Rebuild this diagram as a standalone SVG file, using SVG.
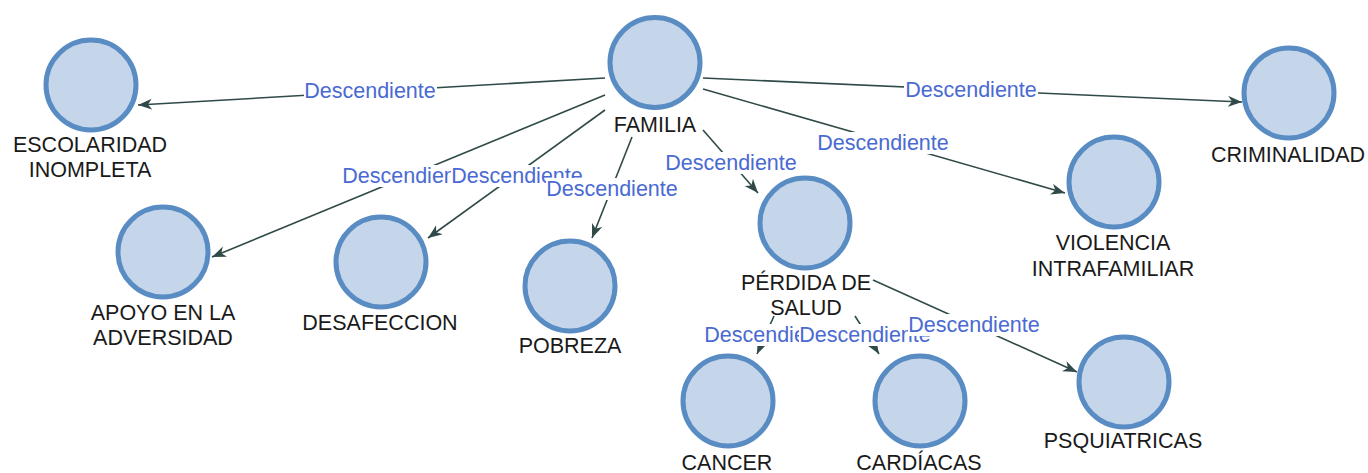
<svg xmlns="http://www.w3.org/2000/svg" width="1368" height="473" viewBox="0 0 1368 473">
<style>
.edge{stroke:#2f4a48;stroke-width:1.6;fill:none;marker-end:url(#arr)}
.elbl-bg{fill:#ffffff}
.elbl{font-family:"Liberation Sans",Arial,sans-serif;font-size:21.5px;fill:#4a6ad2;text-anchor:middle}
.node circle{fill:#c5d6ea;stroke:#5a8cc4;stroke-width:5}
.node text{font-family:"Liberation Sans",Arial,sans-serif;font-size:21.5px;fill:#1a1a1a;text-anchor:middle}
</style>
<defs>
<marker id="arr" markerUnits="userSpaceOnUse" markerWidth="16" markerHeight="12" refX="14" refY="5.5" orient="auto">
<path d="M0,0 L14,5.5 L0,11 L4,5.5 Z" fill="#2f4a48"/>
</marker>
</defs>
<rect width="1368" height="473" fill="#ffffff"/>
<g id="connectors">
<line class="edge" x1="605" y1="78" x2="138" y2="105"/>
<line class="edge" x1="605" y1="95" x2="212" y2="257"/>
<line class="edge" x1="605" y1="110" x2="428" y2="238"/>
<line class="edge" x1="632" y1="137" x2="592" y2="238"/>
<line class="edge" x1="703" y1="130" x2="758" y2="193"/>
<line class="edge" x1="703" y1="78" x2="1242" y2="102"/>
<line class="edge" x1="703" y1="89" x2="1065" y2="193"/>
<line class="edge" x1="774" y1="316" x2="757" y2="354"/>
<line class="edge" x1="855" y1="316" x2="879" y2="354"/>
<line class="edge" x1="873" y1="280" x2="1077" y2="372"/>
<g id="lbl-escolaridad"><rect class="elbl-bg" x="304" y="80" width="133" height="22"/><text class="elbl" x="370" y="98">Descendiente</text></g>
<g id="lbl-criminalidad"><rect class="elbl-bg" x="904" y="79" width="134" height="22"/><text class="elbl" x="971" y="97">Descendiente</text></g>
<g id="lbl-violencia"><rect class="elbl-bg" x="817" y="132" width="133" height="22"/><text class="elbl" x="883" y="150">Descendiente</text></g>
<g id="lbl-perdida"><rect class="elbl-bg" x="664" y="152" width="134" height="22"/><text class="elbl" x="731" y="170">Descendiente</text></g>
<g id="lbl-apoyo"><rect class="elbl-bg" x="342" y="165" width="133" height="22"/><text class="elbl" x="408" y="183">Descendiente</text></g>
<g id="lbl-desafeccion"><rect class="elbl-bg" x="451" y="165" width="133" height="22"/><text class="elbl" x="517" y="183">Descendiente</text></g>
<g id="lbl-pobreza"><rect class="elbl-bg" x="546" y="178" width="133" height="22"/><text class="elbl" x="612" y="196">Descendiente</text></g>
<g id="lbl-cancer"><rect class="elbl-bg" x="704" y="324" width="133" height="22"/><text class="elbl" x="770" y="342">Descendiente</text></g>
<g id="lbl-cardiacas"><rect class="elbl-bg" x="799" y="324" width="133" height="22"/><text class="elbl" x="865" y="342">Descendiente</text></g>
<g id="lbl-psquiatricas"><rect class="elbl-bg" x="908" y="314" width="133" height="22"/><text class="elbl" x="974" y="332">Descendiente</text></g>
</g>
<g id="node-familia" class="node"><circle cx="655" cy="62.5" r="45"/><text x="655" y="132">FAMILIA</text></g>
<g id="node-escolaridad" class="node"><circle cx="91" cy="85" r="45"/><text x="90" y="152">ESCOLARIDAD</text><text x="90" y="177">INOMPLETA</text></g>
<g id="node-criminalidad" class="node"><circle cx="1289" cy="93" r="45"/><text x="1288" y="162">CRIMINALIDAD</text></g>
<g id="node-violencia" class="node"><circle cx="1114" cy="182" r="45"/><text x="1113" y="250">VIOLENCIA</text><text x="1113" y="276">INTRAFAMILIAR</text></g>
<g id="node-apoyo" class="node"><circle cx="163" cy="252" r="45"/><text x="163" y="320">APOYO EN LA</text><text x="163" y="345">ADVERSIDAD</text></g>
<g id="node-desafeccion" class="node"><circle cx="381" cy="262" r="45"/><text x="380" y="330">DESAFECCION</text></g>
<g id="node-pobreza" class="node"><circle cx="570" cy="286" r="45"/><text x="570" y="353">POBREZA</text></g>
<g id="node-perdida" class="node"><circle cx="805" cy="223" r="45"/><text x="806" y="290">PÉRDIDA DE</text><text x="806" y="315">SALUD</text></g>
<g id="node-cancer" class="node"><circle cx="728" cy="401" r="45"/><text x="727" y="470">CANCER</text></g>
<g id="node-cardiacas" class="node"><circle cx="920" cy="401" r="45"/><text x="919" y="470">CARDÍACAS</text></g>
<g id="node-psquiatricas" class="node"><circle cx="1124" cy="382" r="45"/><text x="1123" y="448">PSQUIATRICAS</text></g>
</svg>
